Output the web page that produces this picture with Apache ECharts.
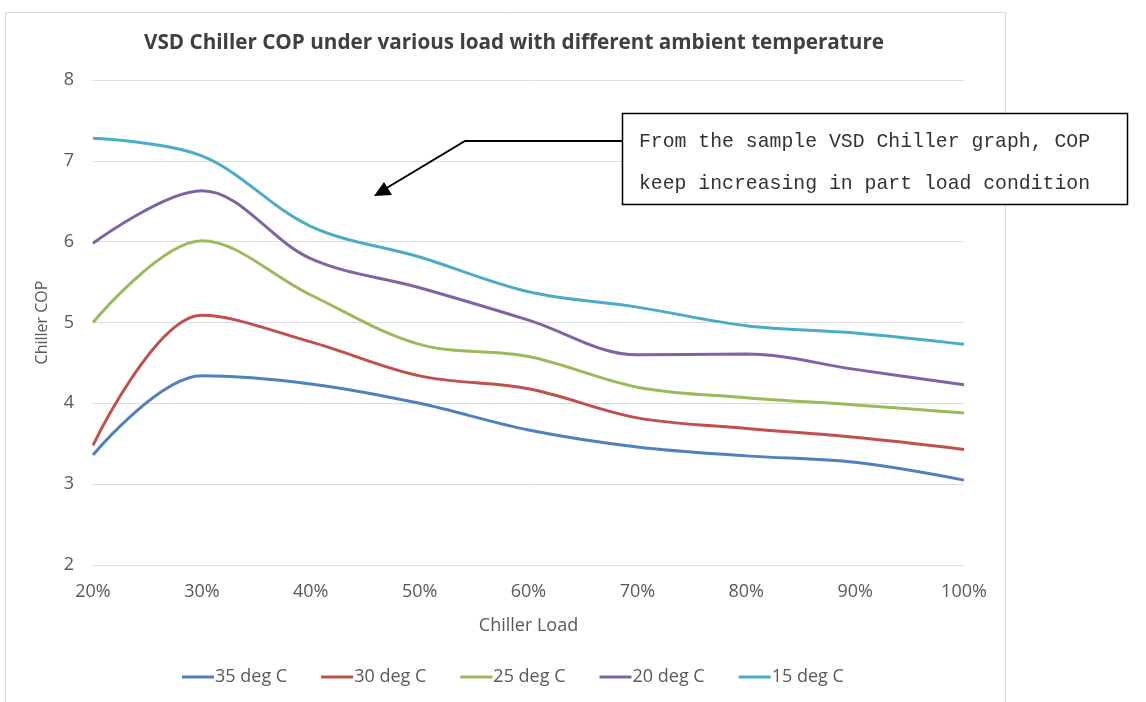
<!DOCTYPE html>
<html><head><meta charset="utf-8">
<script src="https://cdn.jsdelivr.net/npm/echarts@6/dist/echarts.min.js"></script>
<style>html,body{margin:0;padding:0;background:#fff}#c{width:1146px;height:702px}</style>
</head><body><div id="c"></div>
<script>
const categories = ['20%','30%','40%','50%','60%','70%','80%','90%','100%'];
const seriesNames = ['35 deg C','30 deg C','25 deg C','20 deg C','15 deg C'];
const s35 = [3.36, 4.34, 4.24, 4.00, 3.67, 3.46, 3.35, 3.27, 3.05];
const s30 = [3.48, 5.09, 4.76, 4.34, 4.18, 3.82, 3.69, 3.58, 3.43];
const s25 = [5.00, 6.01, 5.34, 4.73, 4.58, 4.20, 4.07, 3.98, 3.88];
const s20 = [5.98, 6.63, 5.79, 5.43, 5.03, 4.60, 4.61, 4.42, 4.23];
const s15 = [7.28, 7.06, 6.19, 5.81, 5.38, 5.19, 4.96, 4.87, 4.73];
const yTicks = [2,3,4,5,6,7,8];
const colors = ['#4F81BD','#C0504D','#9BBB59','#8064A2','#4BACC6'];
const allData = [s35,s30,s25,s20,s15];
const font = 'Open Sans';
const chart = echarts.init(document.getElementById('c'));
chart.setOption({
  animation:false,
  color: colors,
  title:{text:'VSD Chiller COP under various load with different ambient temperature',left:509,textAlign:'center',top:28,
    textStyle:{fontFamily:font,fontWeight:'bold',fontSize:20.7,color:'#404040'}},
  legend:{top:663,left:177,itemWidth:32,itemHeight:3,itemGap:34,icon:'rect',
    data:seriesNames,textStyle:{fontFamily:font,fontSize:18,color:'#595959',padding:[0,0,0,-4]}},
  grid:{left:93,right:182,top:80,bottom:137,containLabel:false},
  xAxis:{type:'category',data:categories,boundaryGap:false,name:'Chiller Load',nameLocation:'middle',nameGap:52,
    nameTextStyle:{fontFamily:font,fontSize:18,color:'#595959'},
    axisLine:{show:false},axisTick:{show:false},
    axisLabel:{fontFamily:font,fontSize:18,color:'#595959',margin:18}},
  yAxis:{type:'value',min:yTicks[0],max:yTicks[yTicks.length-1],interval:1,name:'Chiller COP',nameLocation:'middle',nameGap:43,
    nameTextStyle:{fontFamily:font,fontSize:16,color:'#595959'},
    axisLine:{show:false},axisTick:{show:false},
    axisLabel:{fontFamily:font,fontSize:18,color:'#595959',margin:19}},
  series: seriesNames.map((n,i)=>({name:n,type:'line',data:allData[i],smooth:0.35,showSymbol:false,symbol:'none',
    lineStyle:{width:3,color:colors[i]},itemStyle:{color:colors[i]}})),
  graphic:[
    {type:'rect',shape:{x:5.5,y:12.5,width:1000,height:700},style:{fill:'none',stroke:'#D9D9D9',lineWidth:1},silent:true,z:-1},
    {type:'rect',shape:{x:622.5,y:113.5,width:505,height:91},style:{fill:'#fff',stroke:'#000',lineWidth:1.5},z:10},
    {type:'text',left:639,top:132,style:{text:'From the sample VSD Chiller graph, COP',fontFamily:'Liberation Mono',fontSize:19.8,fill:'#333'},z:11},
    {type:'text',left:639,top:174,style:{text:'keep increasing in part load condition',fontFamily:'Liberation Mono',fontSize:19.8,fill:'#333'},z:11},
    {type:'polyline',shape:{points:[[622,141],[465,141],[385,189]]},style:{stroke:'#000',lineWidth:2,fill:'none'},z:10},
    {type:'polygon',shape:{points:[[374,196],[384,182],[392,195]]},style:{fill:'#000'},z:10}
  ]
});
</script></body></html>
